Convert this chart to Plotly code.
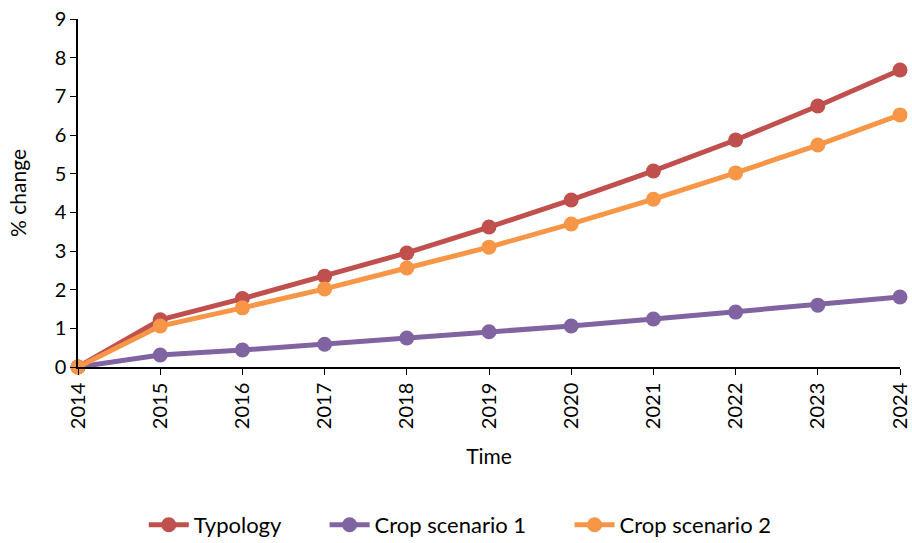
import plotly.graph_objects as go

years = [2014, 2015, 2016, 2017, 2018, 2019, 2020, 2021, 2022, 2023, 2024]
typology = [0, 1.22, 1.77, 2.35, 2.95, 3.62, 4.32, 5.07, 5.87, 6.75, 7.68]
crop_scenario_1 = [0, 0.31, 0.44, 0.59, 0.75, 0.91, 1.06, 1.24, 1.42, 1.60, 1.81]
crop_scenario_2 = [0, 1.06, 1.53, 2.02, 2.56, 3.10, 3.70, 4.34, 5.02, 5.74, 6.52]

GRAPH_CONFIG = {"displayModeBar": False}
COLORS = {"typology": "#C0504D", "crop1": "#8064A2", "crop2": "#F79646", "text": "#000000"}
FONT = "Lato, 'Open Sans', sans-serif"

# one legend per series so the entries can be spaced like the original
series = [
    ("Typology", typology, COLORS["typology"], "legend", 0.080),
    ("Crop scenario 1", crop_scenario_1, COLORS["crop1"], "legend2", 0.300),
    ("Crop scenario 2", crop_scenario_2, COLORS["crop2"], "legend3", 0.598),
]

fig = go.Figure()
legend_layout = {}
for name, values, color, legend_id, legend_x in series:
    fig.add_trace(
        go.Scatter(
            x=years,
            y=values,
            name=name,
            mode="lines+markers",
            line={"color": color, "width": 5},
            marker={"color": color, "size": 15},
            cliponaxis=False,
            legend=legend_id,
            showlegend=True,
        )
    )
    legend_layout[legend_id] = {
        "orientation": "h",
        "x": legend_x,
        "xanchor": "left",
        "y": -0.454,
        "yanchor": "middle",
        "font": {"size": 22},
        "itemwidth": 40,
        "bgcolor": "rgba(0,0,0,0)",
    }

fig.update_layout(
    width=912,
    height=543,
    showlegend=True,
    paper_bgcolor="white",
    plot_bgcolor="white",
    margin={"l": 78, "r": 12, "t": 19, "b": 176, "autoexpand": False},
    font={"family": FONT, "size": 20, "color": COLORS["text"]},
    **legend_layout,
)
fig.update_xaxes(
    range=[2014, 2024],
    tickvals=years,
    ticktext=[str(y) for y in years],
    tickangle=-90,
    tickfont={"size": 20},
    ticklabeloverflow="allow",
    showline=True,
    linecolor="black",
    linewidth=1.5,
    ticks="outside",
    ticklen=6,
    tickcolor="black",
    showgrid=False,
    zeroline=False,
    automargin=False,
    title={"text": "Time", "standoff": 21, "font": {"size": 21}},
)
fig.update_yaxes(
    range=[0, 9],
    dtick=1,
    tickfont={"size": 20},
    ticklabeloverflow="allow",
    showline=True,
    linecolor="black",
    linewidth=1.5,
    ticks="outside",
    ticklen=6,
    tickcolor="black",
    showgrid=False,
    zeroline=False,
    automargin=False,
    title={"text": "% change", "standoff": 22, "font": {"size": 21}},
)

# drop the default page margin so the 912x543 figure fills the window
fig.write_html(
    "out.html",
    config=GRAPH_CONFIG,
    post_script="document.body.style.margin = '0';",
)
